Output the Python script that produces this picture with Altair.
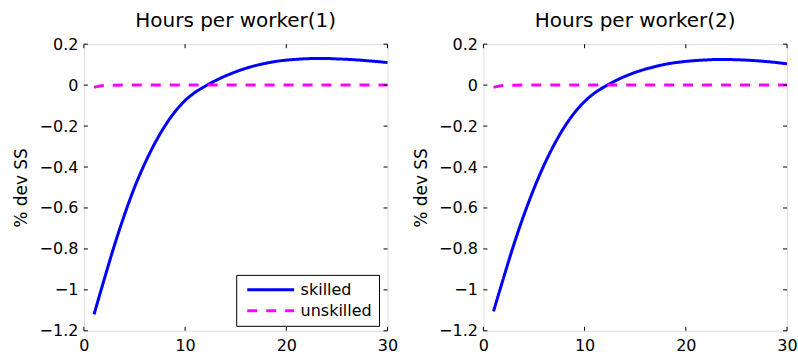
import altair as alt
import pandas as pd

# ---------------- data ----------------
periods = list(range(1, 31))

skilled_1 = [-1.12, -0.95, -0.785, -0.635, -0.50, -0.385, -0.285, -0.20, -0.13, -0.075,
             -0.035, -0.005, 0.022, 0.045, 0.065, 0.082, 0.096, 0.107, 0.116, 0.122,
             0.126, 0.129, 0.13, 0.13, 0.128, 0.126, 0.123, 0.119, 0.115, 0.11]
unskilled_1 = [-0.011, -0.002, -0.0005] + [0.0] * 27

skilled_2 = [-1.105, -0.94, -0.78, -0.635, -0.505, -0.39, -0.29, -0.205, -0.135, -0.08,
             -0.038, -0.007, 0.02, 0.043, 0.062, 0.078, 0.091, 0.102, 0.11, 0.116,
             0.12, 0.123, 0.125, 0.125, 0.124, 0.122, 0.119, 0.115, 0.11, 0.104]
unskilled_2 = [-0.011, -0.002, -0.0005] + [0.0] * 27

series_names = ["skilled", "unskilled"]
series_colors = ["#0000ff", "#ff00ff"]
series_dashes = [[1, 0], [10, 9]]

x_ticks = [0, 10, 20, 30]
y_ticks = [0.2, 0, -0.2, -0.4, -0.6, -0.8, -1, -1.2]
panel_titles = ["Hours per worker(1)", "Hours per worker(2)"]
y_title = "% dev SS"

FONT = "DejaVu Sans"
W, H = 304, 287
TICK = 4


def panel(skilled, unskilled, title, show_legend):
    n = len(periods)
    df = pd.DataFrame({
        "t": periods + periods,
        "v": skilled + unskilled,
        "series": [series_names[0]] * n + [series_names[1]] * n,
    })
    xs = alt.Scale(domain=[0, 30], nice=False, zero=False)
    ys = alt.Scale(domain=[-1.2, 0.2], nice=False, zero=False)

    if show_legend:
        leg = alt.Legend(
            title=None, orient="none", legendX=152.5, legendY=231,
            symbolType="M-5,0H5", symbolSize=88, symbolStrokeWidth=3,
            symbolOffset=19.5, labelOffset=22, labelAlign="left",
            labelFont=FONT, labelFontSize=16, labelColor="black",
            labelExpr="datum.label + '\u2009'",
            padding=7, rowPadding=5,
            strokeColor="black", fillColor="white",
        )
    else:
        leg = None

    x_axis = alt.Axis(values=x_ticks, format="d", labelFont=FONT, labelFontSize=16,
                      labelColor="black", ticks=False, tickSize=0, domain=False, grid=False,
                      labelPadding=7, labelFlush=False, labelOverlap=False, title=None)
    y_axis = alt.Axis(values=y_ticks, format="~g", labelFont=FONT, labelFontSize=16,
                      labelColor="black", ticks=False, tickSize=0, domain=False, grid=False,
                      labelPadding=6, labelFlush=False, labelOverlap=False,
                      title=y_title, titleFont=FONT, titleFontSize=17,
                      titleFontWeight="normal", titleColor="black",
                      titleX=-62, titleY=H / 2, titleAngle=270,
                      titleAlign="center", titleBaseline="middle")

    X = alt.X("t:Q", scale=xs, axis=x_axis)
    Y = alt.Y("v:Q", scale=ys, axis=y_axis)

    lines = alt.Chart(df).mark_line(strokeWidth=3, interpolate="monotone").encode(
        x=X,
        y=Y,
        color=alt.Color("series:N", scale=alt.Scale(domain=series_names, range=series_colors),
                        legend=leg),
        strokeDash=alt.StrokeDash("series:N",
                                  scale=alt.Scale(domain=series_names, range=series_dashes),
                                  legend=leg),
    )

    xt = pd.DataFrame({"t": x_ticks})
    yt = pd.DataFrame({"v": y_ticks})
    tick_style = dict(color="black", strokeWidth=1)
    bottom = alt.Chart(xt).mark_rule(**tick_style).encode(
        x=X, y=alt.value(H), y2=alt.value(H - TICK))
    top = alt.Chart(xt).mark_rule(**tick_style).encode(
        x=X, y=alt.value(0), y2=alt.value(TICK))
    left = alt.Chart(yt).mark_rule(**tick_style).encode(
        y=Y, x=alt.value(0), x2=alt.value(TICK))
    right = alt.Chart(yt).mark_rule(**tick_style).encode(
        y=Y, x=alt.value(W), x2=alt.value(W - TICK))

    return alt.layer(lines, bottom, top, left, right).properties(
        width=W, height=H,
        title=alt.TitleParams(text=title, font=FONT, fontSize=20, fontWeight="normal",
                              color="black", anchor="middle", frame="group",
                              baseline="alphabetic", offset=-11),
    )


p1 = panel(skilled_1, unskilled_1, panel_titles[0], True)
p2 = panel(skilled_2, unskilled_2, panel_titles[1], False)

chart = (
    alt.hconcat(p1, p2, spacing=96, bounds="flush")
    .resolve_scale(color="independent", strokeDash="independent")
    .resolve_legend(color="independent", strokeDash="independent")
    .properties(padding={"left": 12, "top": 10, "right": 0, "bottom": 0})
    .configure_view(stroke="black", strokeWidth=1)
    .configure(background="white")
)

chart.save("out.html", embed_options={"renderer": "svg", "actions": False})
